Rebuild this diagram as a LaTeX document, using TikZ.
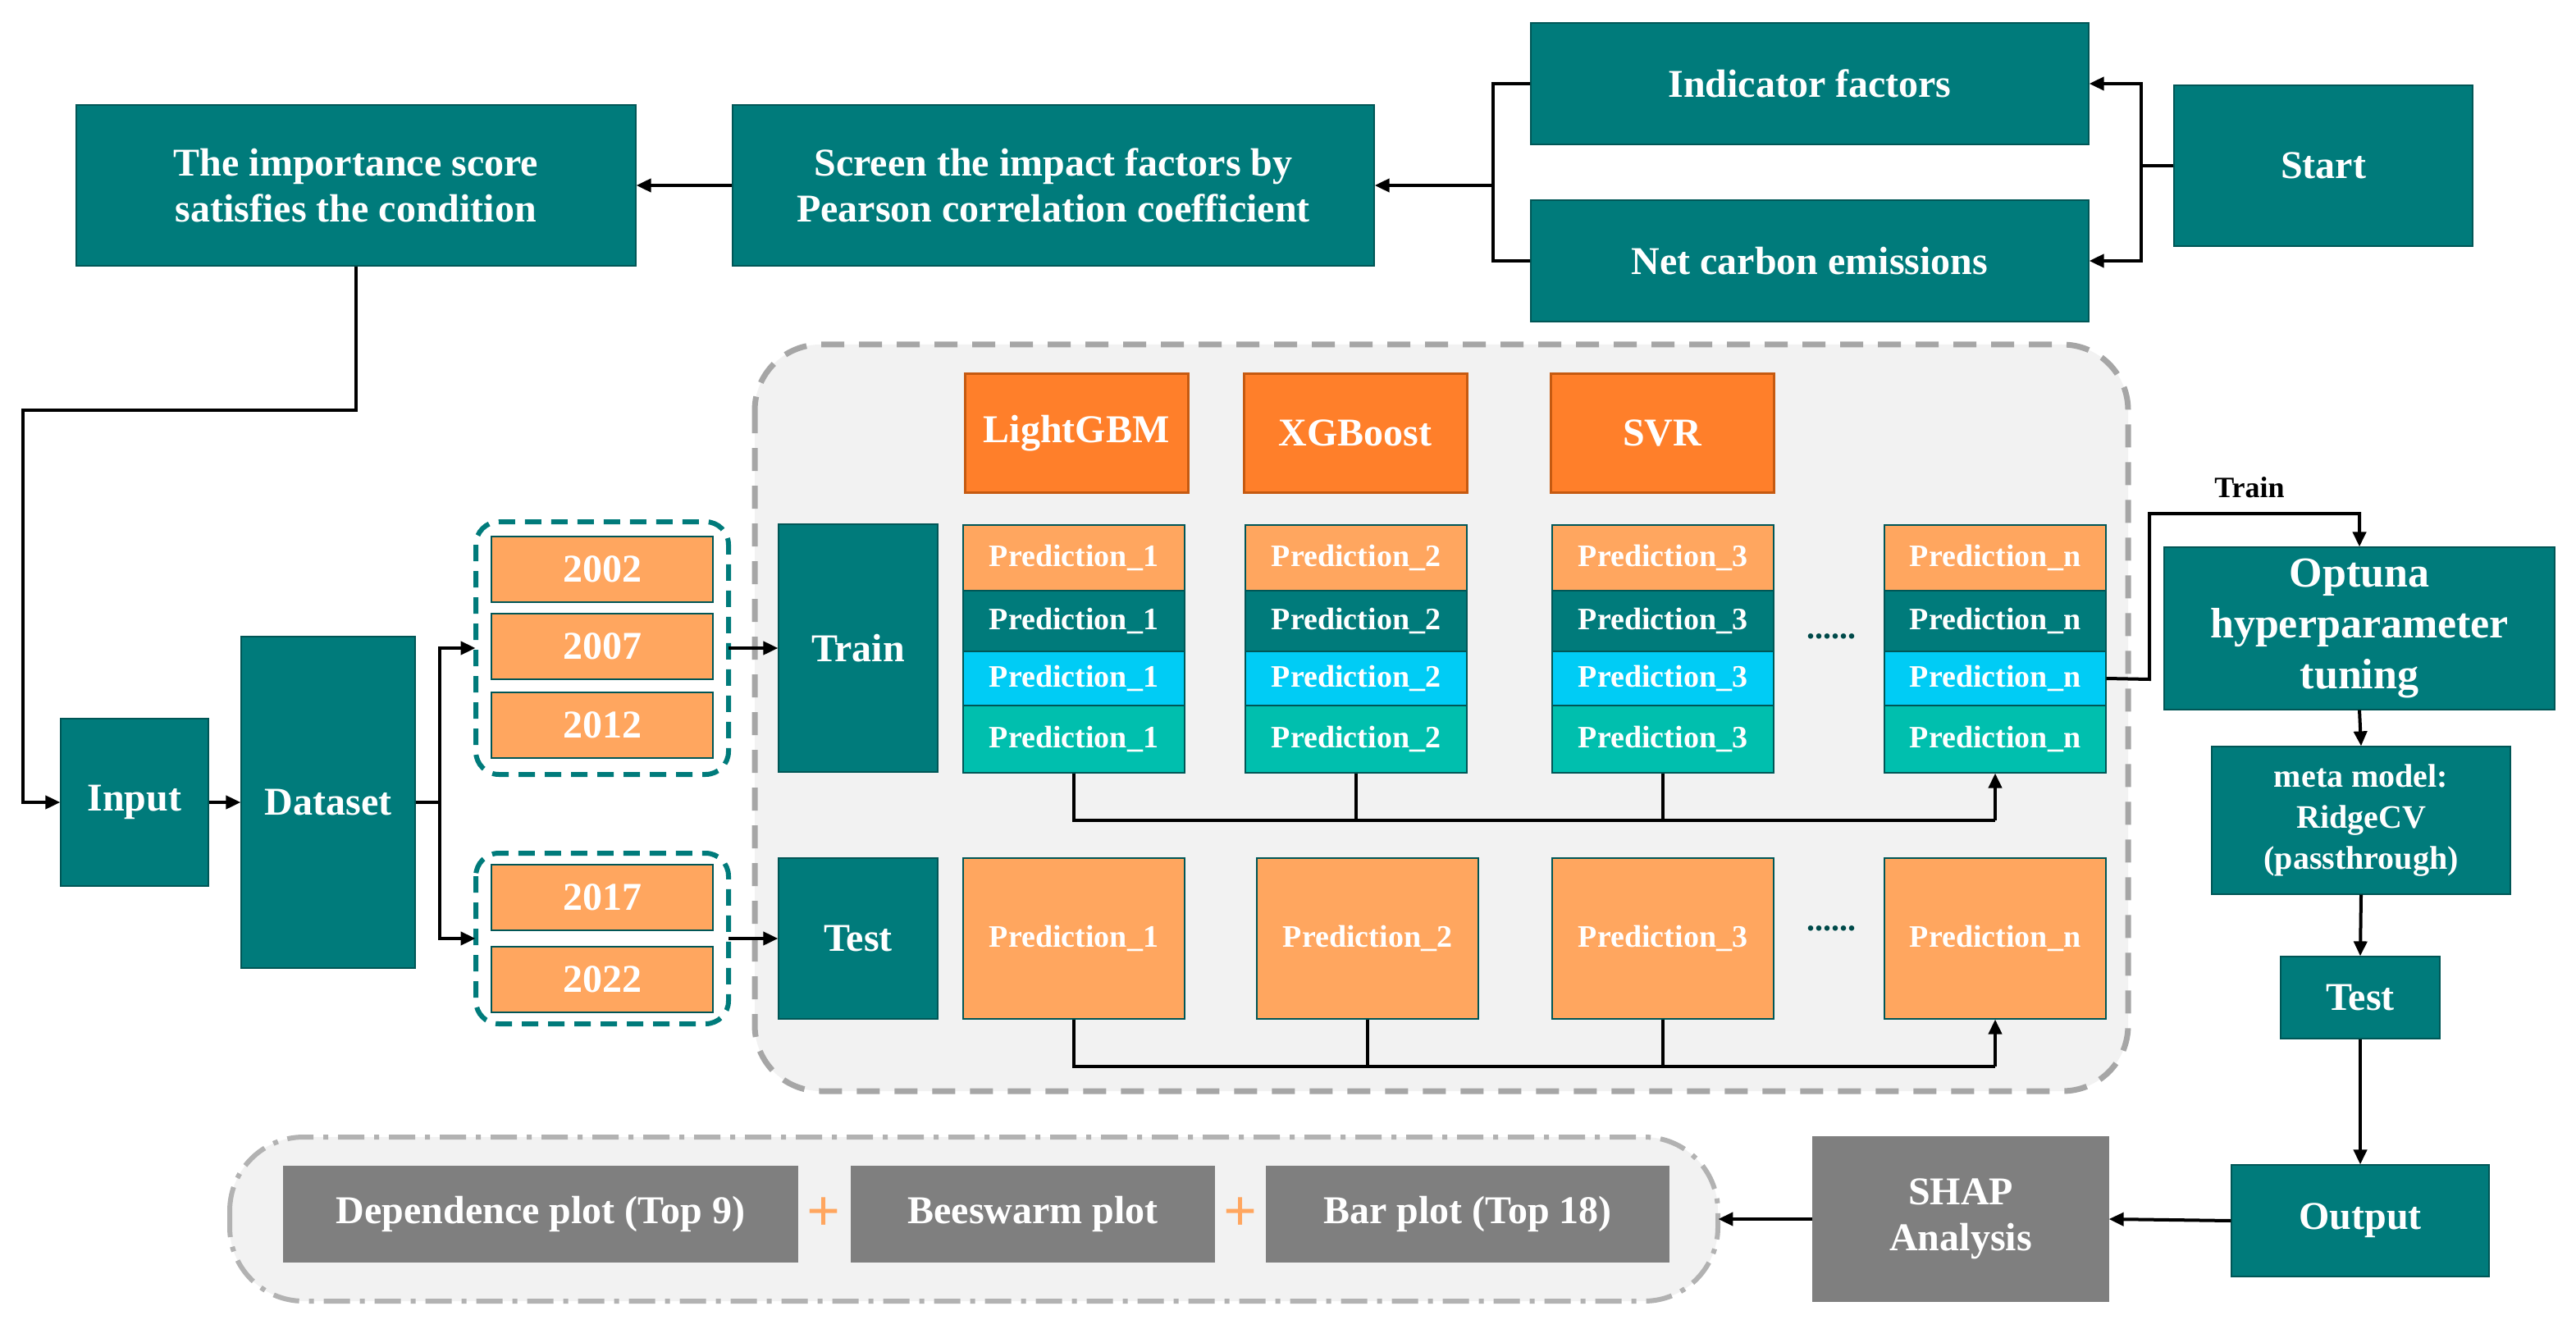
\documentclass[tikz,border=0pt]{standalone}
\usepackage{fontspec}
\setmainfont{Liberation Serif}
\usetikzlibrary{arrows.meta}
\definecolor{teal1}{HTML}{007B7B}
\definecolor{org}{HTML}{FFA65F}
\definecolor{orgd}{HTML}{FF7F2A}
\definecolor{orgb}{HTML}{C55A11}
\definecolor{cyan1}{HTML}{00CCF5}
\definecolor{tg}{HTML}{00BFAE}
\definecolor{gbox}{HTML}{7F7F7F}
\definecolor{bg}{HTML}{F2F2F2}
\begin{document}
\begin{tikzpicture}[x=1pt,y=-1pt,
 bx/.style={draw=teal1!70!black,line width=0.6pt,inner sep=0pt,text=white,align=center,font=\bfseries\fontsize{24}{28}\selectfont},
 tb/.style={bx,fill=teal1},
 ob/.style={bx,fill=org,draw=teal1!70!black},
 pr/.style={bx,font=\bfseries\fontsize{19}{22}\selectfont},
 ar/.style={-{Triangle[length=9pt,width=8pt]},line width=2pt},
 ln/.style={line width=2pt}]
\fill[white] (0,0) rectangle (1570,810);
\useasboundingbox (0,0) rectangle (1570,810);
% regions
\draw[bg!80!gray,fill=bg,line width=3.5pt,dashed,dash pattern=on 14pt off 9pt,draw=gray!70,rounded corners=40pt] (460,210) rectangle (1297,665);
\draw[fill=bg,line width=3pt,draw=gray!60,dash pattern=on 16pt off 6pt on 3pt off 6pt,rounded corners=45pt] (140,693) rectangle (1047,793);
% top row
\node[tb,minimum width=182pt,minimum height=98pt] (start) at (1416,101) {Start};
\node[tb,minimum width=340pt,minimum height=74pt] (ind) at (1103,51) {Indicator factors};
\node[tb,minimum width=340pt,minimum height=74pt] (net) at (1103,159) {Net carbon emissions};
\node[tb,minimum width=391pt,minimum height=98pt] (scr) at (642,113) {Screen the impact factors by\\Pearson correlation coefficient};
\node[tb,minimum width=341pt,minimum height=98pt] (imp) at (217,113) {The importance score\\satisfies the condition};
\coordinate (s1) at (1305,101);
\draw[ln] (start.west) -- (s1);
\draw[ar] (s1) |- (ind.east);
\draw[ar] (s1) |- (net.east);
\coordinate (j1) at (910,113);
\draw[ln] (ind.west) -| (j1);
\draw[ln] (net.west) -| (j1);
\draw[ar] (j1) -- (scr.east);
\draw[ar] (scr.west) -- (imp.east);
% input / dataset
\node[tb,minimum width=90pt,minimum height=102pt] (inp) at (82,489) {Input};
\node[tb,minimum width=106pt,minimum height=202pt] (ds) at (200,489) {Dataset};
\coordinate (c1) at (217,250);\coordinate (c2) at (14,250);
\draw[ar] (imp.south) -- (c1) -- (c2) |- (inp.west);
\draw[ar] (inp.east) -- (ds.west);
% year groups
\draw[teal1,line width=3pt,dash pattern=on 10pt off 6pt,rounded corners=14pt] (290,318) rectangle (444,472);
\node (g1) at (367,395) [minimum width=154pt,minimum height=154pt] {};
\draw[teal1,line width=3pt,dash pattern=on 10pt off 6pt,rounded corners=14pt] (290,520) rectangle (444,624);
\node (g2) at (367,572) [minimum width=154pt,minimum height=104pt] {};
\node[ob,minimum width=135pt,minimum height=40pt] (y1) at (367,347) {2002};
\node[ob,minimum width=135pt,minimum height=40pt] (y2) at (367,394) {2007};
\node[ob,minimum width=135pt,minimum height=40pt] (y3) at (367,442) {2012};
\node[ob,minimum width=135pt,minimum height=40pt] (y4) at (367,547) {2017};
\node[ob,minimum width=135pt,minimum height=40pt] (y5) at (367,597) {2022};
\coordinate (d1) at (268,489);
\draw[ln] (ds.east) -- (d1);
\draw[ar] (d1) |- (g1.west);
\draw[ar] (d1) |- (g2.west);
% train / test
\node[tb,minimum width=97pt,minimum height=151pt] (tr) at (523,395) {Train};
\node[tb,minimum width=97pt,minimum height=98pt] (te) at (523,572) {Test};
\draw[ar] (g1.east) -- (tr.west);
\draw[ar] (g2.east) -- (te.west);
% models
\foreach \n/\x/\t in {lg/656/LightGBM,xg/826/XGBoost,sv/1013/SVR}
 \node[bx,fill=orgd,draw=orgb,line width=1.5pt,minimum width=136pt,minimum height=72pt] (\n) at (\x,264) {\t};
% prediction columns
\foreach \i/\x/\s in {1/654.5/1,2/826.5/2,3/1013.5/3,4/1216/n}{
 \node[pr,fill=org,minimum width=135pt,minimum height=40pt] (a\i) at (\x,340) {Prediction\_\s};
 \node[pr,fill=teal1,minimum width=135pt,minimum height=37pt] (b\i) at (\x,378.5) {Prediction\_\s};
 \node[pr,fill=cyan1,minimum width=135pt,minimum height=33pt] (c\i) at (\x,413.5) {Prediction\_\s};
 \node[pr,fill=tg,minimum width=135pt,minimum height=41pt] (e\i) at (\x,450.5) {Prediction\_\s};
}
\foreach \i/\x/\s in {1/654.5/1,2/833.5/2,3/1013.5/3,4/1216/n}
 \node[pr,fill=org,minimum width=135pt,minimum height=98pt] (t\i) at (\x,572) {Prediction\_\s};
\node[font=\bfseries\fontsize{20}{20}\selectfont,text=teal1!60!black] (dt1) at (1116,388) {......};
\node[font=\bfseries\fontsize{20}{20}\selectfont,text=teal1!60!black] (dt2) at (1116,566) {......};
\coordinate (h1) at (654.5,500);\coordinate (h2) at (826.5,500);\coordinate (h3) at (1013.5,500);\coordinate (h4) at (1216,500);
\draw[ln] (e1.south) -- (h1) -- (h4);
\draw[ln] (e2.south) -- (h2);
\draw[ln] (e3.south) -- (h3);
\draw[ar] (h4) -- (e4.south);
\coordinate (k1) at (654.5,650);\coordinate (k2) at (833.5,650);\coordinate (k3) at (1013.5,650);\coordinate (k4) at (1216,650);
\draw[ln] (t1.south) -- (k1) -- (k4);
\draw[ln] (t2.south) -- (k2);
\draw[ln] (t3.south) -- (k3);
\draw[ar] (k4) -- (t4.south);
% right column
\node[tb,minimum width=238pt,minimum height=99pt,font=\bfseries\fontsize{26}{31}\selectfont] (opt) at (1438,383) {Optuna\\hyperparameter\\tuning};
\node[tb,minimum width=182pt,minimum height=90pt,font=\bfseries\fontsize{20}{25}\selectfont] (meta) at (1439,500) {meta model:\\RidgeCV\\(passthrough)};
\node[tb,minimum width=97pt,minimum height=50pt] (te2) at (1438.5,608) {Test};
\node[tb,minimum width=157pt,minimum height=68pt] (out) at (1438.5,744) {Output};
\coordinate (r1) at (1310,414);\coordinate (r2) at (1310,313);\coordinate (r3) at (1438,313);
\draw[ar] (c4.east) -- (r1) -- (r2) -- (r3) -- (opt.north);
\node[font=\bfseries\fontsize{18}{18}\selectfont] (trl) at (1371,297) {Train};
\draw[ar] (opt.south) -- (meta.north);
\draw[ar] (meta.south) -- (te2.north);
\draw[ar] (te2.south) -- (out.north);
% SHAP
\node[bx,fill=gbox,draw=gbox,minimum width=180pt,minimum height=100pt] (shap) at (1195,743) {SHAP\\Analysis};
\draw[ar] (out.west) -- (shap.east);
\node (reg) at (593.5,743) [minimum width=907pt,minimum height=100pt] {};
\draw[ar] (shap.west) -- (reg.east);
\node[bx,fill=gbox,draw=gbox,minimum width=313pt,minimum height=58pt] (dep) at (329.5,740) {Dependence plot (Top 9)};
\node[bx,fill=gbox,draw=gbox,minimum width=221pt,minimum height=58pt] (bee) at (629.5,740) {Beeswarm plot};
\node[bx,fill=gbox,draw=gbox,minimum width=245pt,minimum height=58pt] (bar) at (894.5,740) {Bar plot (Top 18)};
\node[text=org,font=\bfseries\fontsize{36}{36}\selectfont] (p1) at (502,740) {+};
\node[text=org,font=\bfseries\fontsize{36}{36}\selectfont] (p2) at (756,740) {+};
\end{tikzpicture}
\end{document}
